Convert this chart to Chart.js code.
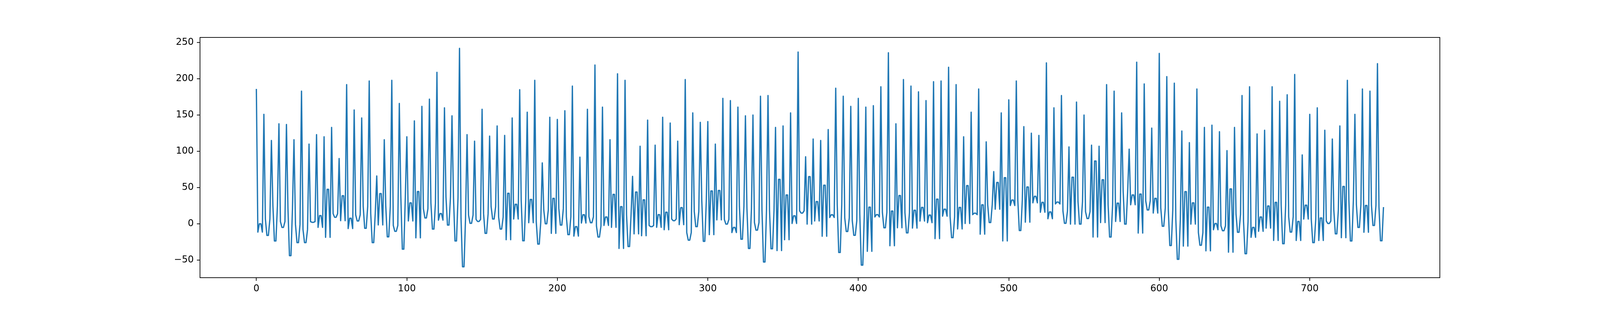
<!DOCTYPE html>
<html>
<head>
<meta charset="utf-8">
<script src="https://cdn.jsdelivr.net/npm/chart.js@4.4.1/dist/chart.umd.min.js"></script>
<style>
  html, body { margin: 0; padding: 0; background: #ffffff; overflow: hidden; }
  canvas { display: block; }
</style>
</head>
<body>
<canvas id="c"></canvas>
<script>
// Series values (index 0..749)
const seriesValues = [
186,-11.5,0,0,-11.5, 151,6.5,-16,-16,6.5, 115,25,-23.7,-23.7,25, 138,3,-5,-5,3, 137,21,-44,-44,21,
116,-1,-26,-26,-1, 183,-8,-26,-26,-8, 110,3,2,2,3, 123,-5,11.3,11.3,-5, 120,-18.7,47.5,47.5,-18.7,
133,14,9,9,14, 90,4.3,38.7,38.7,4.3, 192,-6.6,7.6,7.6,-6.6, 157,12.4,3.9,3.9,12.4, 146,24,-6.2,-6.2,24,
197,14,-26,-26,14, 66,-1.6,41.6,41.6,-1.6, 116,24,-18,-18,24, 198,-2.3,-10.4,-10.4,-2.3, 166,38,-35,-35,38,
120,3.9,28.9,28.9,3.9, 142,-19.4,44.5,44.5,-19.4, 162,20.8,8,8,20.8, 172,28.4,-7.3,-7.3,28.4, 209,5,14,14,5,
160,37,-1.8,-1.8,37, 149,36,-23.7,-23.7,36, 242,7.6,-59.3,-59.3,7.6, 123,12,0.6,0.6,12, 114,6,3.2,3.2,6,
158,13.8,-13.2,-13.2,13.8, 121,23.6,6.5,6.5,23.6, 135,9.1,-7.3,-7.3,9.1, 122,-22,42,42,-22, 146,6.5,26.9,26.9,6.5,
185,31.7,-23.5,-23.5,31.7, 154,1.5,33.5,33.5,1.5, 198,2.8,-28,-28,2.8, 84,19,0,0,19, 147,-13.2,35,35,-13.2,
144,21.2,-1.8,-1.8,21.2, 156,9.8,-15,-15,9.8, 190,-17,-4,-4,-17, 92,1,12.4,12.4,1, 158,9.8,1.5,1.5,9.8,
219,-2.9,-18.3,-18.3,-2.9, 161,-2.3,9.4,9.4,-2.3, 116,-4.9,40.5,40.5,-4.9, 207,-34,23.6,23.6,-34, 198,12.4,-31.4,-31.4,12.4,
65.5,-13.9,43.8,43.8,-13.9, 107,-16.5,33,33,-16.5, 143,-2.3,-4,-4,-2.3, 108.5,-4.9,12.6,12.6,-4.9, 147,-8.2,15.9,15.9,-8.2,
139,6.5,4.3,4.3,6.5, 114,-1.2,22.3,22.3,-1.2, 199,-12.1,-22.6,-22.6,-12.1, 153,16.8,-4,-4,16.8, 140,31.7,-24.2,-24.2,31.7,
141,-15,45.3,45.3,-15, 110,5.4,46,46,5.4, 173,6,-0.5,-0.5,6, 170,-12.1,-5,-5,-12.1, 161,24,-21.3,-21.3,24,
149,20.8,-34,-34,20.8, 150,1.7,-8.8,-8.8,1.7, 176,18.6,-52.7,-52.7,18.6, 177,18.6,-34.5,-34.5,18.6, 133,-37,61.3,61.3,-37,
135,-22,39.8,39.8,-22, 153,0.4,11,11,0.4, 237,17.9,14.7,14.7,17.9, 92.5,-0.5,65,65,-0.5, 117,3.9,30.6,30.6,3.9,
115,-17.2,53.2,53.2,-17.2, 130,8.7,12.4,12.4,8.7, 187,26.3,-39.6,-39.6,26.3, 176,8,-10.6,-10.6,8, 162,4.3,-15.9,-15.9,4.3,
173,13.1,-57,-57,13.1, 161,-38,23,23,-38, 163,9.4,12.6,12.6,9.4, 189,15.9,-5.5,-5.5,15.9, 236,-30.3,17.5,17.5,-30.3,
138,-5.5,39,39,-5.5, 199,15.3,-12.6,-12.6,15.3, 190,-6,18.6,18.6,-6, 182,3.7,22.5,22.5,3.7, 170,1.5,12,12,1.5,
196,-20.5,34,34,-20.5, 197,10.5,20.1,20.1,10.5, 216,9.8,-19.2,-19.2,9.8, 192,-7.1,22.5,22.5,-7.1, 120,0.4,52.6,52.6,0.4,
154,12.6,14.6,14.6,12.6, 186,-14.3,26.2,26.2,-14.3, 113,26.2,1.7,1.7,26.2, 72,20.1,57,57,20.1, 153,-23.7,63.5,63.5,-23.7,
171,25.2,32.8,32.8,25.2, 197,32.8,-9.3,-9.3,32.8, 134,2.2,50.8,50.8,2.2, 125,28.9,37.9,37.9,28.9, 122,15.9,29.5,29.5,15.9,
222,7,16.4,16.4,7, 160,27.4,30,30,27.4, 177,17.5,0.6,0.6,17.5, 106,-0.5,64.2,64.2,-0.5, 168,30.6,-0.5,-0.5,30.6,
150,16.8,7.2,7.2,16.8, 108.5,-18.3,86.6,86.6,-18.3, 107,1.7,60.7,60.7,1.7, 192,26.2,-18.3,-18.3,26.2, 183,3.2,28.4,28.4,3.2,
153,44.9,-0.5,-0.5,44.9, 103,26.2,39.8,39.8,26.2, 223,-12.8,41,41,-12.8, 193,31.7,19,19,31.7, 132,14.8,35,35,14.8,
235,21.9,-3.4,-3.4,21.9, 203,19.7,-30,-30,19.7, 194,6.5,-49,-49,6.5, 128,-30.8,44.3,44.3,-30.8, 112,-0.5,28.9,28.9,-0.5,
186,-12.1,-29.6,-29.6,-12.1, 133,-37.3,23,23,-37.3, 136,-8.2,0.4,0.4,-8.2, 127,-2.8,-9.6,-9.6,-2.8, 101,-39.2,48.1,48.1,-39.2,
133,13.1,-11.7,-11.7,13.1, 177,3.2,-41.3,-41.3,3.2, 189,-18.7,-5,-5,-18.7, 124,-10.4,9.4,9.4,-10.4, 129,-6,24.5,24.5,-6,
189,-23,29.5,29.5,-23, 169,26.2,-27.5,-27.5,26.2, 178,9.8,-11.5,-11.5,9.8, 206,-23,3.2,3.2,-23, 95,6.5,25.6,25.6,6.5,
151,6.5,-26,-26,6.5, 160,-23,8,8,-23, 129,3.7,0.4,0.4,3.7, 117,18.6,-13.9,-13.9,18.6, 135,-19.2,51.5,51.5,-19.2,
198,32.8,-23.7,-23.7,32.8, 151,26.2,-5,-5,26.2, 186,-11.7,25.2,25.2,-11.7, 183,25.6,-2.3,-2.3,25.6, 221,23,-23.5,-23.5,23
];

// Tick labels
const xTickValues = [0, 100, 200, 300, 400, 500, 600, 700];
const yTickValues = [-50, 0, 50, 100, 150, 200, 250];

// Build point table (x = sample index)
const points = seriesValues.map((v, i) => ({ x: i, y: v }));

// Matplotlib-like 5% autoscale margins
const xLo = 0, xHi = seriesValues.length - 1;
const yLo = Math.min(...seriesValues), yHi = Math.max(...seriesValues);
const xPad = (xHi - xLo) * 0.05, yPad = (yHi - yLo) * 0.05;

// Fill the actual viewport; keep the figure's relative subplot margins
const W = window.innerWidth, H = window.innerHeight;
const canvas = document.getElementById('c');
canvas.width = W; canvas.height = H;
canvas.style.width = W + 'px'; canvas.style.height = H + 'px';

const FONT = { family: 'DejaVu Sans', size: 24 };

const framePlugin = {
  id: 'frame',
  afterDatasetsDraw(chart) {
    const a = chart.chartArea, ctx = chart.ctx;
    ctx.save();
    ctx.strokeStyle = '#000000';
    ctx.lineWidth = 1.8;
    ctx.strokeRect(a.left, a.top, a.right - a.left, a.bottom - a.top);
    ctx.restore();
  }
};

new Chart(canvas, {
  type: 'line',
  data: {
    datasets: [{
      data: points,
      borderColor: '#1f77b4',
      borderWidth: 3.3,
      pointRadius: 0,
      tension: 0,
      fill: false,
      borderJoinStyle: 'round'
    }]
  },
  options: {
    responsive: false,
    animation: false,
    parsing: false,
    layout: { padding: { top: Math.round(0.12 * H), right: Math.round(0.1 * W), left: 0, bottom: 0 } },
    plugins: { legend: { display: false }, tooltip: { enabled: false } },
    scales: {
      x: {
        type: 'linear',
        min: xLo - xPad,
        max: xHi + xPad,
        afterBuildTicks(scale) { scale.ticks = xTickValues.map(v => ({ value: v })); },
        afterFit(scale) { scale.height = Math.round(0.11 * H); },
        border: { display: false },
        grid: { display: true, drawOnChartArea: false, drawTicks: true, tickLength: 8, lineWidth: 1.8, color: '#000000' },
        ticks: { font: FONT, color: '#000000', padding: 6, maxRotation: 0, autoSkip: false,
                 callback: v => String(v) }
      },
      y: {
        type: 'linear',
        min: yLo - yPad,
        max: yHi + yPad,
        afterBuildTicks(scale) { scale.ticks = yTickValues.map(v => ({ value: v })); },
        afterFit(scale) { scale.width = Math.round(0.125 * W); },
        border: { display: false },
        grid: { display: true, drawOnChartArea: false, drawTicks: true, tickLength: 8, lineWidth: 1.8, color: '#000000' },
        ticks: { font: FONT, color: '#000000', padding: 8, autoSkip: false,
                 callback: v => (v < 0 ? '\u2212' + Math.abs(v) : String(v)) }
      }
    }
  },
  plugins: [framePlugin]
});
</script>
</body>
</html>
